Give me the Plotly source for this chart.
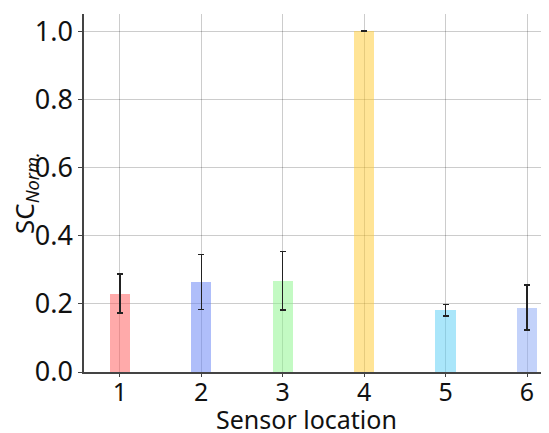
import plotly.graph_objects as go

locations = [1, 2, 3, 4, 5, 6]
sc_norm = [0.230, 0.264, 0.268, 1.000, 0.181, 0.189]
sc_err = [0.057, 0.080, 0.086, 0.0, 0.017, 0.066]
bar_colors = [
    "rgba(255,85,85,0.5)",
    "rgba(95,125,245,0.5)",
    "rgba(135,245,135,0.5)",
    "rgba(255,201,45,0.5)",
    "rgba(85,205,245,0.5)",
    "rgba(135,165,245,0.5)",
]
y_ticks = [0.0, 0.2, 0.4, 0.6, 0.8, 1.0]

fig = go.Figure()
fig.add_trace(go.Bar(
    x=locations, y=sc_norm, width=0.25,
    marker=dict(color=bar_colors, line=dict(width=0)),
    error_y=dict(type="data", array=sc_err, visible=True,
                 color="#222222", thickness=1.5, width=3),
))

font_family = "Noto Sans, Open Sans, sans-serif"
# page has an 8px body margin; compensate so the plot area sits at page x 84..549, y 14..372
OFF = 8
W, H = 549, 433
L, R, T, B = 84 - OFF, OFF, 14 - OFF, H - (372 - OFF)
pw, ph = W - L - R, H - T - B
PLOT_L, PLOT_B = 84, 372  # page pixel coords of plot-area left and bottom

fig.update_layout(
    width=W, height=H,
    margin=dict(l=L, r=R, t=T, b=B, autoexpand=False),
    plot_bgcolor="white", paper_bgcolor="white",
    font=dict(family=font_family, size=25, color="#111111"),
    showlegend=False,
    xaxis=dict(
        range=[0.56, 6.27], tickvals=locations, ticktext=[str(v) for v in locations],
        tickfont=dict(size=25), ticklabelstandoff=-6,
        showgrid=True, gridcolor="rgba(0,0,0,0.2)", gridwidth=1,
        showline=True, linecolor="#444444", linewidth=1.5,
        ticks="outside", ticklen=3, tickcolor="#444444",
        zeroline=False, automargin=False,
    ),
    yaxis=dict(
        range=[0, 1.05], tickvals=y_ticks, ticktext=[f"{v:.1f}" for v in y_ticks],
        tickfont=dict(size=27),
        showgrid=True, gridcolor="rgba(0,0,0,0.2)", gridwidth=1,
        showline=True, linecolor="#444444", linewidth=1.5,
        ticks="outside", ticklen=4, tickcolor="#444444",
        zeroline=False, automargin=False,
    ),
    bargap=0,
    annotations=[
        dict(text="Sensor location", xref="paper", yref="paper",
             x=(306 - PLOT_L) / pw, y=(PLOT_B - 419) / ph, xanchor="center", yanchor="middle",
             showarrow=False, font=dict(size=25), borderpad=0),
        dict(text="SC<sub><i>Norm.</i></sub>", xref="paper", yref="paper",
             x=(25 - PLOT_L) / pw, y=0.5, xanchor="center", yanchor="middle",
             textangle=-90, showarrow=False, font=dict(size=26), borderpad=0),
    ],
)

fig.write_html("out.html")
